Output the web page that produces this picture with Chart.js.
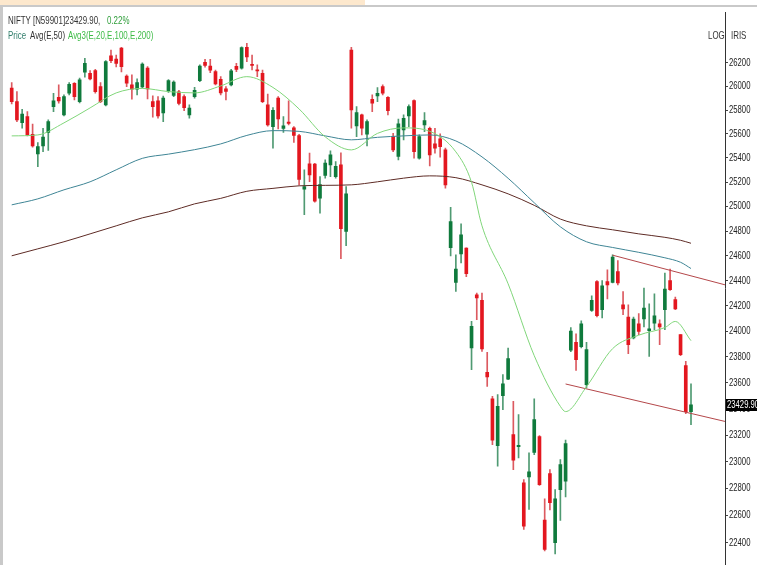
<!DOCTYPE html>
<html><head><meta charset="utf-8">
<script src="https://cdn.jsdelivr.net/npm/chart.js@4.4.1/dist/chart.umd.min.js"></script>
<style>
html,body{margin:0;padding:0;background:#fff;}
#wrap{position:relative;width:757px;height:565px;overflow:hidden;background:#fff;}
#c{position:absolute;left:0;top:0;}
#topbar{position:absolute;left:0;top:0;width:365px;height:5px;background:#fde8cd;}
#topline{position:absolute;left:0;top:5px;width:757px;height:2px;background:#c9c9c9;}
#leftline{position:absolute;left:0;top:5px;width:3px;height:560px;background:#c9c9c9;}
.t{position:absolute;font-family:"Liberation Sans",Arial,sans-serif;font-size:11px;line-height:12px;white-space:nowrap;color:#333;transform:scaleX(0.72);transform-origin:0 50%;}
</style></head>
<body>
<div id="wrap">
<canvas id="c" width="757" height="565"></canvas>
<div id="topbar"></div><div id="topline"></div><div id="leftline"></div>
<div class="t" style="left:8px;top:14px;">NIFTY [N59901]23429.90,</div>
<div class="t" style="left:107px;top:14px;color:#2f9e3a;">0.22%</div>
<div class="t" style="left:8px;top:29px;color:#2f7d6a;">Price</div>
<div class="t" style="left:30px;top:29px;color:#333;">Avg(E,50)</div>
<div class="t" style="left:68px;top:29px;color:#3dbb46;">Avg3(E,20,E,100,E,200)</div>
<div class="t" style="left:708px;top:29px;">LOG</div>
<div class="t" style="left:731px;top:29px;">IRIS</div>
</div>
<script>
const opens = [25985,25871,25694,25745,25597,25433,25500,25611,25829,25908,25759,25942,26027,25871,26121,26112,26134,25998,25843,26260,
26234,26328,26087,26013,25976,25996,26157,25871,25877,25776,25962,25924,25953,25913,25759,25913,26049,26206,26174,26126,
26061,25979,26013,26172,26155,26335,26187,26140,26112,25843,25661,25900,25646,25699,25650,25585,25142,25350,25349,25068,
25255,25342,25245,25342,24796,26311,25667,25759,25597,25891,25919,25998,25908,25577,25411,25633,25751,25880,25397,25675,
25647,25516,25558,25466,24665,24387,24616,24662,23870,24289,24244,23681,23476,23121,23501,23629,23204,23113,22841,22886,
23070,23189,22564,22910,22398,22791,22853,23854,23914,23880,23585,24165,24394,24170,24394,24387,24474,24210,24113,23948,
24060,24097,24005,24065,24060,24170,24402,24250,23974,23733,23378];
const highs = [26032,25956,25807,25787,25681,25527,25647,25717,25942,26013,25928,26032,26032,26070,26240,26134,26146,26032,26220,26311,
26268,26334,26098,26098,26064,26200,26170,25919,25913,25917,26059,26047,25966,25928,25843,25993,26183,26232,26232,26140,
26083,25998,26145,26197,26339,26368,26268,26183,26140,25935,25820,25913,25745,25877,25661,25596,25301,25439,25354,25245,
25383,25458,25369,25441,25163,26334,25829,25765,25717,25928,25990,26013,25913,25605,25723,25759,25843,25886,25591,25778,
25656,25647,25600,25481,24993,24608,24859,24665,24078,24302,24302,23836,23496,23509,23663,23870,23458,23356,22866,23066,
23476,23196,22722,22940,22791,23015,23162,24029,23981,24083,23914,24281,24402,24402,24488,24608,24562,24315,24210,24113,
24139,24342,24217,24297,24091,24462,24494,24271,23974,23766,23593];
const lows = [25852,25703,25647,25583,25489,25328,25452,25461,25787,25858,25751,25928,25886,25860,26078,26055,25942,25863,25835,26203,
26166,26123,25998,25891,25928,25987,25894,25740,25731,25703,25949,25913,25843,25795,25731,25900,26041,26163,26117,26013,
25928,25886,26004,26126,26146,26211,26140,26083,25863,25665,25481,25641,25612,25675,25529,25177,24932,25204,25034,24946,
25232,25245,25232,24576,24681,25647,25577,25591,25500,25787,25871,25928,25759,25452,25383,25550,25661,25397,25389,25619,
25334,25439,25406,25150,24600,24315,24542,24432,23702,24091,23844,23572,23128,22965,23394,23624,22940,23028,22496,22643,
23053,22821,22338,22639,22316,22562,22737,23841,23696,23870,23560,24157,24113,24105,24255,24382,24368,24131,23826,23940,
23974,24034,23805,24013,23896,24013,24323,24170,23810,23364,23280];
const closes = [25871,25717,25767,25591,25500,25494,25572,25703,25877,25877,25913,26018,25913,26055,26197,26064,25956,25871,26211,26220,
26196,26168,26027,25976,26032,26191,25979,25829,25751,25900,26049,26036,25856,25820,25816,25967,26174,26179,26138,26021,
25945,25957,26132,26145,26332,26251,26179,26132,25871,25675,25797,25725,25668,25688,25587,25222,25163,25259,25043,25180,
25356,25425,25330,24820,25103,25801,25778,25647,25703,25858,25942,25942,25795,25466,25684,25731,25829,25452,25577,25711,
25425,25481,25494,25177,24877,24494,24769,24456,24039,24263,23862,23645,23161,23419,23593,23787,23010,23123,22520,22923,
23318,22828,22349,22693,22722,22978,23136,24003,23779,24060,23857,24244,24123,24360,24368,24590,24382,24176,23896,24097,
23999,24183,24020,24123,24034,24334,24329,24176,23818,23378,23429.9];

const ema20Idx = [0,5,10,15,20,25,30,35,40,45,50,55,60,65,70,75,80,85,88,90,95,100,105,106,110,115,120,125,127,130];
const ema20 = [25583,25591,25692,25818,25945,25983,25956,25945,26004,26083,25991,25809,25575,25466,25604,25650,25621,25450,25198,24842,24376,23810,23419,23379,23570,23865,23970,24030,24078,23927];
const slowIdx = [0,5,10,15,20,25,30,35,40,45,50,55,60,65,70,75,80,85,90,95,100,105,110,115,120,125,128,130];
const ema100 = [25013,25062,25136,25202,25301,25396,25431,25468,25516,25587,25627,25621,25583,25550,25571,25583,25591,25541,25408,25231,25030,24834,24713,24667,24628,24584,24548,24498];
const ema200 = [24600,24656,24713,24777,24842,24907,24956,25021,25066,25124,25148,25169,25173,25177,25202,25232,25251,25236,25177,25103,25009,24897,24842,24810,24777,24749,24725,24701];
const upperTrendIdx = [115,136.5];
const upperTrend = [24605,24368];
const lowerTrendIdx = [106,136.5];
const lowerTrend = [23591,23304];
const tickValues = [22400,22600,22800,23000,23200,23400,23600,23800,24000,24200,24400,24600,24800,25000,25200,25400,25600,25800,26000,26200];
const lastLabel = "23429.90";

const GREEN = '#0f7a3c', RED = '#e3171f', GW = '#4f9a72', RW = '#dc5a60';
const FONT = '11px "Liberation Sans",Arial,sans-serif';
const pts = (ix, vals) => ix.map((x, k) => ({x: x, y: vals[k]}));
const bodyData = closes.map((c, i) => ({x: i, y: [opens[i], c]}));
const wickData = closes.map((c, i) => ({x: i, y: [lows[i], highs[i]]}));
const isUp = closes.map((c, i) => c >= opens[i]);
const lineDs = (data, color, order) => ({type: 'line', data: data, borderColor: color, borderWidth: 1, pointRadius: 0, cubicInterpolationMode: 'monotone', order: order});

function narrowText(ctx, text, x, y) {
  ctx.save();
  ctx.translate(x, y);
  ctx.scale(0.7, 1);
  ctx.fillText(text, 0, 0);
  ctx.restore();
}

const axisText = {
  id: 'axisText',
  afterDraw(chart) {
    const ctx = chart.ctx, ys = chart.scales.y;
    ctx.save();
    ctx.font = FONT;
    ctx.textBaseline = 'middle';
    ctx.textAlign = 'left';
    ctx.fillStyle = '#222';
    tickValues.forEach(v => narrowText(ctx, String(v), ys.left + 4, Math.round(ys.getPixelForValue(v))));
    const y = Math.round(ys.getPixelForValue(closes[closes.length - 1]));
    ctx.fillStyle = '#000';
    ctx.fillRect(ys.left + 1, y - 6, 32, 12);
    ctx.fillStyle = '#fff';
    narrowText(ctx, lastLabel, ys.left + 2, y);
    ctx.restore();
  }
};

const chart = new Chart(document.getElementById('c'), {
  type: 'bar',
  data: {datasets: [
    lineDs(pts(ema20Idx, ema20), '#80d67a', 0),
    lineDs(pts(slowIdx, ema100), '#3f8595', 0),
    lineDs(pts(slowIdx, ema200), '#5e2b25', 0),
    Object.assign(lineDs(pts(upperTrendIdx, upperTrend), '#b4474a', 0), {cubicInterpolationMode: 'default', tension: 0}),
    Object.assign(lineDs(pts(lowerTrendIdx, lowerTrend), '#b4474a', 0), {cubicInterpolationMode: 'default', tension: 0}),
    {data: bodyData, backgroundColor: isUp.map(u => u ? GREEN : RED), barThickness: 3, minBarLength: 1, grouped: false, order: 1, borderWidth: 0},
    {data: wickData, backgroundColor: isUp.map(u => u ? GW : RW), barThickness: 1, grouped: false, order: 2, borderWidth: 0}
  ]},
  options: {
    responsive: false, animation: false, devicePixelRatio: 1,
    layout: {padding: {left: 3, top: 12, right: 0, bottom: 0}},
    plugins: {legend: {display: false}, tooltip: {enabled: false}},
    scales: {
      x: {type: 'linear', min: -1.6, max: 136.5, display: false, offset: false},
      y: {
        type: 'logarithmic', position: 'right', min: 22240, max: 26640, bounds: 'data',
        afterBuildTicks: s => { s.ticks = tickValues.map(v => ({value: v})); },
        afterFit: s => { s.width = 32; },
        ticks: {display: false},
        grid: {drawOnChartArea: false, drawTicks: true, tickLength: 3, color: '#444'},
        border: {display: true, color: '#333', width: 1}
      }
    }
  },
  plugins: [axisText]
});

// calibrate the scale ranges to the reference layout
const a = chart.chartArea;
const k = (543 - 63) / Math.log(26200 / 22400);
chart.options.scales.y.max = 26200 * Math.exp((63 - a.top) / k);
chart.options.scales.y.min = 22400 * Math.exp(-(a.bottom - 543) / k);
const step = (691 - 11.7) / 130;
chart.options.scales.x.min = -(11.7 - a.left) / step;
chart.options.scales.x.max = 130 + (a.right - 691) / step;
chart.update();
</script>
</body></html>
